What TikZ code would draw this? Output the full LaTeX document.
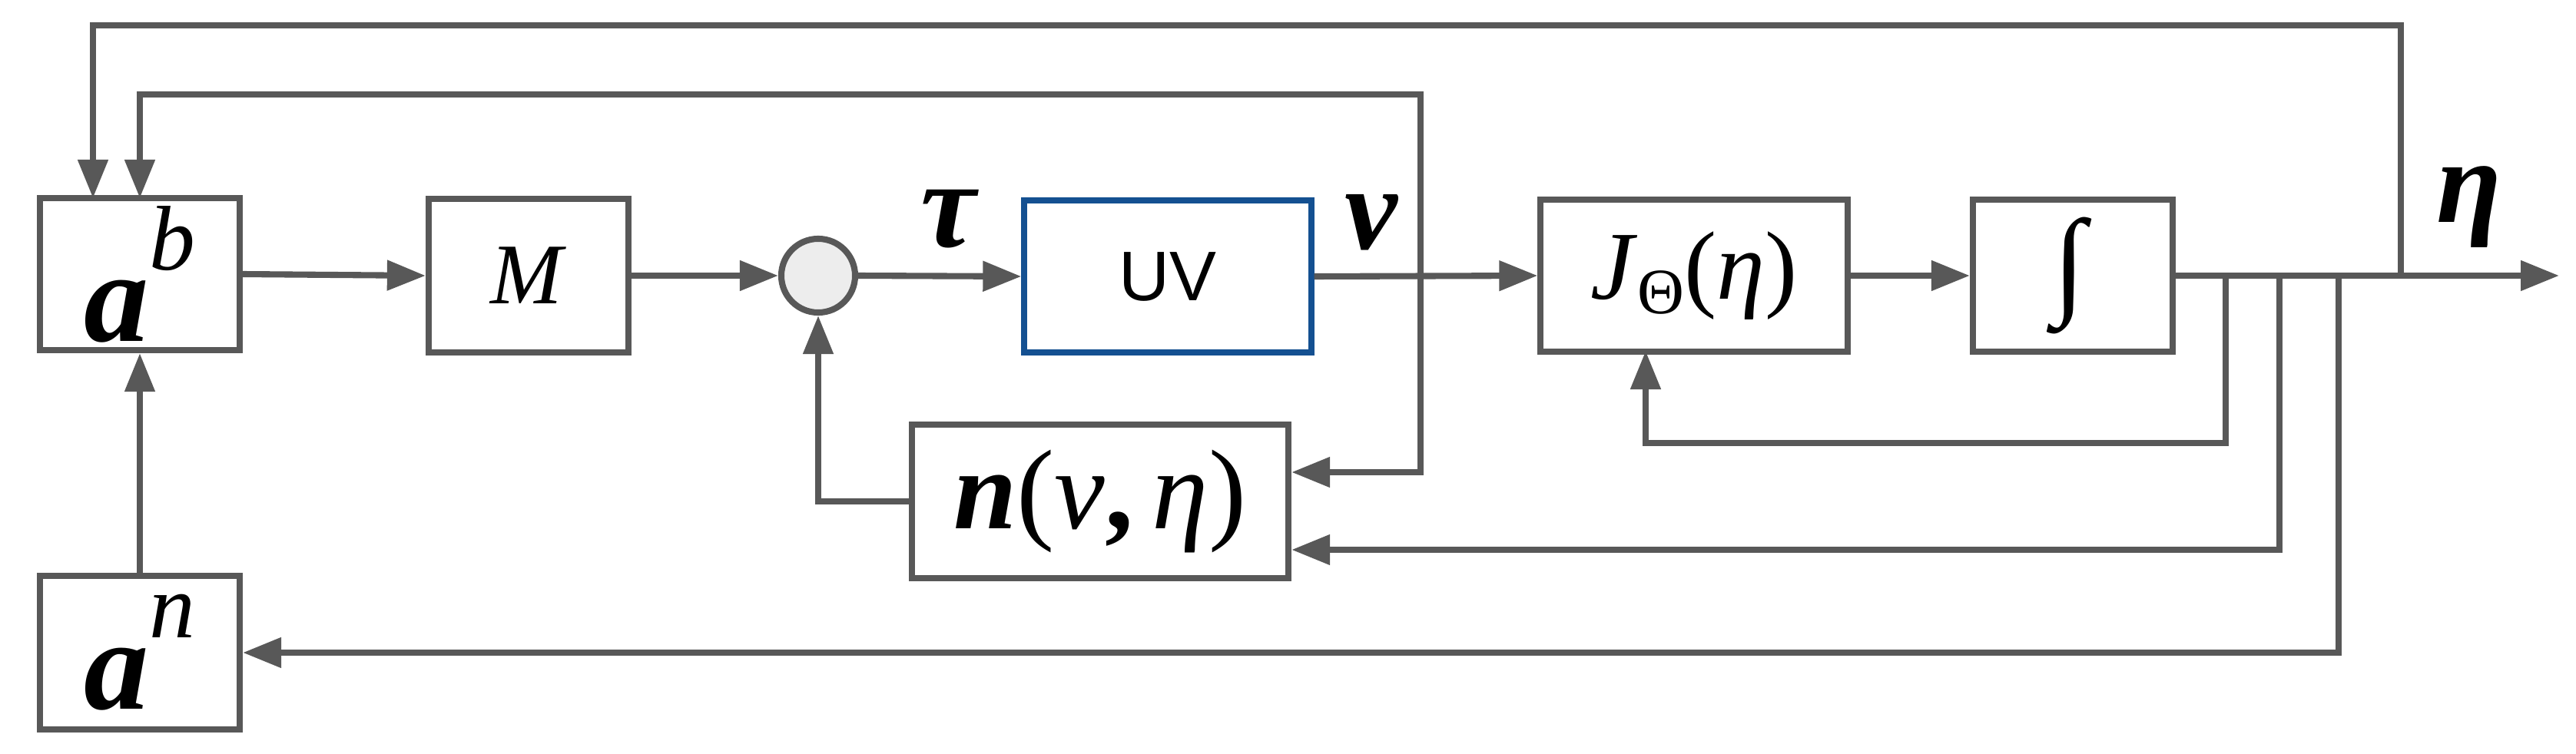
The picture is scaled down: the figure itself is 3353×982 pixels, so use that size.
\documentclass[tikz,border=0pt]{standalone}
\usepackage{fontspec}
\setmainfont{Liberation Serif}
\newfontfamily\uvfont{Liberation Sans}
\usetikzlibrary{arrows.meta}
\definecolor{ln}{RGB}{88,88,88}
\definecolor{uvb}{RGB}{20,80,145}
\begin{document}
\begin{tikzpicture}[x=0.01cm,y=-0.01cm,
  blk/.style={draw=ln,line width=2.3pt,rectangle,inner sep=0pt},
  con/.style={draw=ln,line width=2.3pt,-{Triangle[length=0.5cm,width=0.38cm]}},
  fs/.style={font=\fontsize{#1}{#1}\selectfont}]
\useasboundingbox (0,0) rectangle (3353,982);
\node[blk,minimum width=2.6cm,minimum height=1.98cm,fs=48] (ab) at (182,357) {\textbf{\textit{a}}\raisebox{0.55em}{\fontsize{34}{34}\selectfont\textit{b}}};
\node[blk,minimum width=2.6cm,minimum height=1.99cm,fs=48] (an) at (182,850) {\textbf{\textit{a}}\raisebox{0.55em}{\fontsize{34}{34}\selectfont\textit{n}}};
\node[blk,minimum width=2.6cm,minimum height=1.99cm,fs=32] (M) at (688,359) {\textit{M}};
\node[circle,draw=ln,fill=black!7,line width=2.3pt,minimum size=0.96cm,inner sep=0pt] (s) at (1065,359) {};
\node[draw=uvb,line width=2.3pt,minimum width=3.73cm,minimum height=1.97cm,fs=26] (uv) at (1520,360) {\uvfont UV};
\node[blk,minimum width=4.9cm,minimum height=1.99cm,fs=42] (n) at (1432,653) {\textbf{\textit{n}}(\textit{v}\textbf{,}\,\textit{η})};
\node[blk,minimum width=3.99cm,minimum height=1.97cm,fs=36] (J) at (2205,359) {\textit{J}\raisebox{-0.15em}{\fontsize{24}{24}\selectfont Θ}(\textit{η})};
\node[blk,minimum width=2.6cm,minimum height=1.97cm,fs=44] (I) at (2698,359) {\textit{∫}};
\node[fs=46] (tau) at (1236,285) {\textbf{\textit{τ}}};
\node[fs=44] (v) at (1786,290) {\textbf{\textit{v}}};
\node[fs=44] (eta) at (3214,270) {\textbf{\textit{η}}};
\coordinate (out) at (3331,359);
\coordinate (p1) at (2897,359);
\coordinate (p2) at (2967,359);
\coordinate (p3) at (3044,359);
\coordinate (p4) at (3125,359);
\coordinate (pv) at (1849,359);
\draw[con] (ab.east) -- (M.west);
\draw[con] (M.east) -- (s.west);
\draw[con] (s.east) -- (uv.west);
\draw[con] (uv.east) -- (J.west);
\draw[con] (J.east) -- (I.west);
\draw[con] (I.east) -- (out);
\draw[con] (an.north) -- (ab.south);
\draw[con] (n.west) -| (s.south);
\draw[con] (pv) -- (1849,123) -- (182,123) -- (182,258);
\draw[con] (p4) -- (3125,33) -- (121,33) -- (121,258);
\draw[con] (pv) -- (1849,615) -- (n.east |- 0,615);
\draw[con] (p1) -- (2897,577) -- (2142,577) -- (2142,457);
\draw[con] (p2) -- (2967,716) -- (n.east |- 0,716);
\draw[con] (p3) -- (3044,850) -- (an.east);
\end{tikzpicture}
\end{document}
